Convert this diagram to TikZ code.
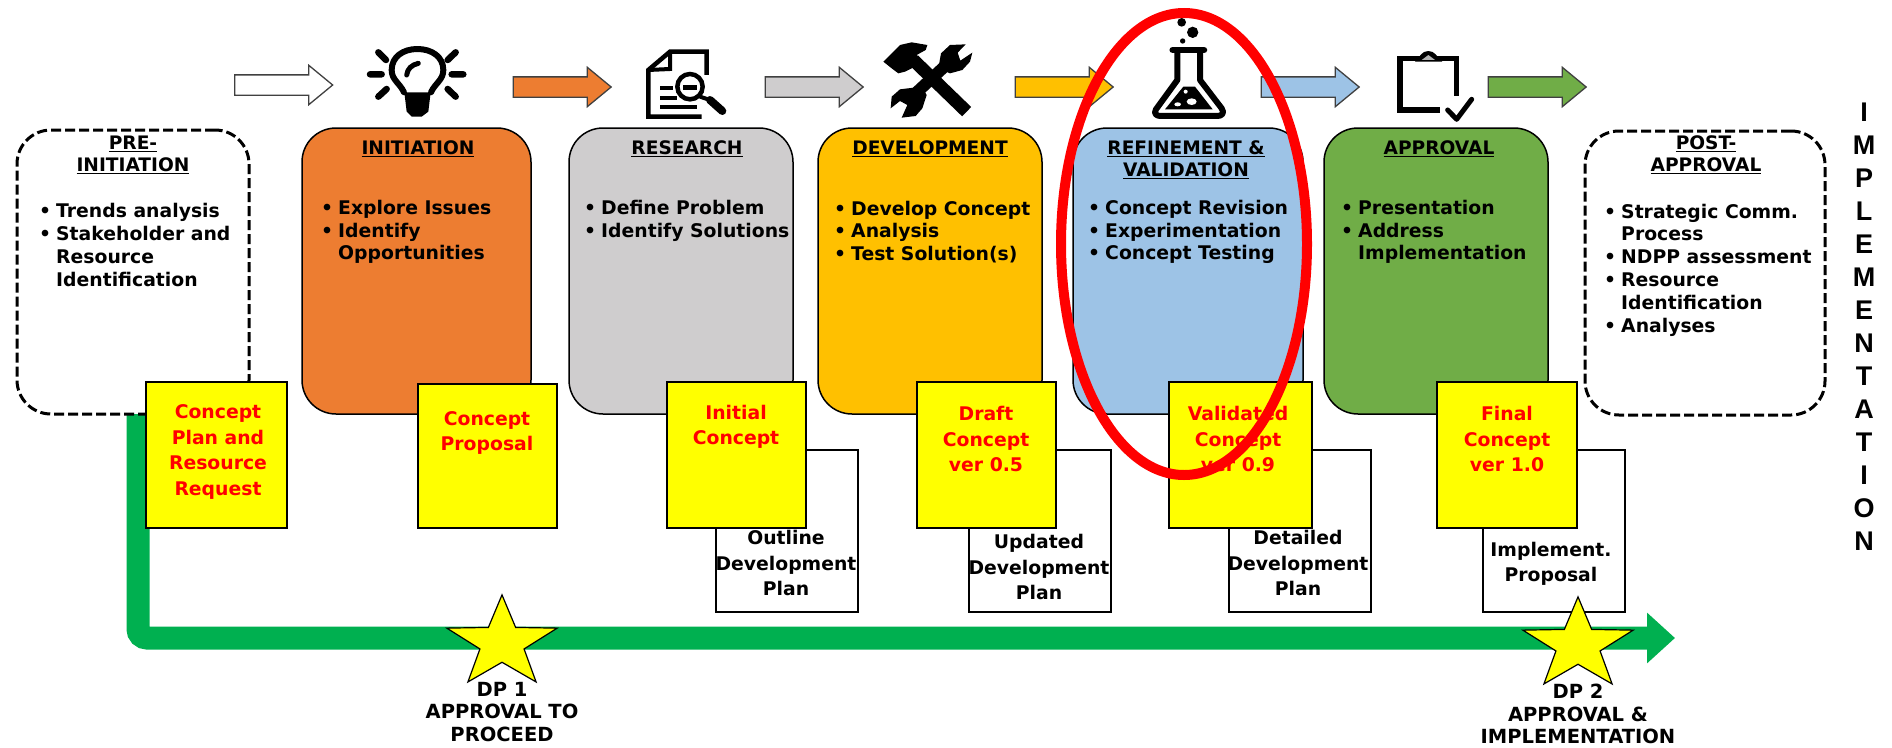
\documentclass[tikz,border=0pt]{standalone}
\usepackage{fontspec}
\setmainfont{DejaVu Sans}
\newfontfamily\libsans{Liberation Sans}
\usetikzlibrary{shapes.arrows,shapes.geometric,arrows.meta}
\definecolor{cOrange}{HTML}{ED7D31}
\definecolor{cGrey}{HTML}{CFCDCE}
\definecolor{cGold}{HTML}{FFC000}
\definecolor{cBlue}{HTML}{9DC3E6}
\definecolor{cGreen}{HTML}{70AD47}
\definecolor{cTrack}{HTML}{00B050}
\definecolor{cYellow}{HTML}{FFFF00}
\definecolor{cRed}{HTML}{FF0000}
\newcommand\bl[1]{\makebox[17pt][l]{•}#1}
\newcommand\ct[1]{\hspace*{17pt}#1}
\newcommand\arrowbody{\rule{0pt}{19pt}}
\tikzset{
  card/.style={draw=black,line width=1.5pt,rounded corners=34pt,inner sep=0pt,outer sep=0pt,anchor=north west,minimum height=286pt},
  dashcard/.style={card,line width=3pt,dash pattern=on 10pt off 4pt,minimum height=284pt},
  flowarrow/.style={single arrow,draw=black!75,line width=1.3pt,inner sep=0pt,outer sep=0pt,minimum height=98pt,
     single arrow head extend=9.5pt,single arrow tip angle=79,single arrow head indent=0pt},
  headtxt/.style={font=\fontsize{18.6}{22}\selectfont\bfseries,align=center,inner sep=0pt},
  bodytxt/.style={font=\fontsize{18.8}{22.8}\selectfont\bfseries,align=left,anchor=west,inner sep=0pt},
  yellowbox/.style={draw=black,line width=1.5pt,fill=cYellow,inner sep=0pt,outer sep=0pt,anchor=north west},
  yellowtxt/.style={font=\fontsize{18.8}{25.5}\selectfont\bfseries,text=cRed,align=center,inner sep=0pt},
  planbox/.style={draw=black,line width=1.8pt,fill=white,inner sep=0pt,outer sep=0pt,anchor=north west,minimum width=142pt,minimum height=162pt},
  plantxt/.style={font=\fontsize{18.8}{25.5}\selectfont\bfseries,align=center,inner sep=0pt},
  dpstar/.style={star,star points=5,star point ratio=2.5,draw=black,line width=1.2pt,fill=cYellow,minimum size=116pt,inner sep=0pt,yscale=.83,transform shape},
  dptxt/.style={font=\fontsize{19.5}{22.5}\selectfont\bfseries,align=center,inner sep=0pt},
  iconline/.style={line width=6pt,line cap=round,line join=round,black}
}
\begin{document}
\begin{tikzpicture}[x=1pt,y=-1pt]
\useasboundingbox (0,0) rectangle (1892,747);
\fill[white] (0,0) rectangle (1892,747);
% top arrows
\node[flowarrow,fill=white] (arrA) at (277.5,85) {\arrowbody};
\node[flowarrow,fill=cOrange] (arrB) at (556,87) {\arrowbody};
\node[flowarrow,fill=cGrey] (arrC) at (808,87) {\arrowbody};
\node[flowarrow,fill=cGold] (arrD) at (1058,87) {\arrowbody};
\node[flowarrow,fill=cBlue] (arrE) at (1304,87) {\arrowbody};
\node[flowarrow,fill=cGreen] (arrF) at (1531,87) {\arrowbody};
% bulb
\begin{scope}[shift={(355,5)},x=.3333pt,y=-.3333pt]
 \draw[iconline,line width=6pt] (147,262) .. controls (135,235) and (110,225) .. (110,195) .. controls (110,155) and (145,132) .. (187,132)
   .. controls (230,132) and (265,155) .. (265,195) .. controls (265,225) and (240,235) .. (228,262);
 \fill[black] (148,262) -- (227,262) -- (220,320) -- (200,335) -- (170,335) -- (155,320) -- cycle;
 \draw[iconline,line width=5pt] (155,210) .. controls (158,190) and (170,180) .. (190,175);
 \draw[iconline,line width=6.5pt] (45,208) -- (80,208) (290,208) -- (325,208) (70,142) -- (93,165) (302,142) -- (278,165) (70,275) -- (95,252) (302,275) -- (278,252);
\end{scope}
% document
\begin{scope}[shift={(635,25)},x=.3333pt,y=-.3333pt]
 \draw[iconline,line width=4.5pt,line cap=butt,line join=miter] (215,150) -- (215,80) -- (105,80) -- (40,135) -- (40,275) -- (200,275);
 \draw[iconline,line width=4pt,line cap=butt,line join=miter] (105,80) -- (105,132) -- (40,135);
 \draw[iconline,line width=4pt,line cap=butt] (75,190) -- (115,190) (75,218) -- (125,218) (75,245) -- (187,245) (147,187) -- (187,187);
 \fill[white] (165,185) circle (38);
 \draw[black,line width=4.5pt] (165,185) circle (38);
 \draw[iconline,line width=4.5pt,line cap=butt] (145,187) -- (187,187);
 \draw[black,line width=4pt] (195,215) -- (225,225);
 \draw[iconline,line width=8pt] (225,225) -- (262,258);
\end{scope}
% tools
\begin{scope}[shift={(875,30)},x=.3333pt,y=-.3333pt]
 \draw[black,line width=13pt] (115,90) -- (275,245);
 \fill[black] (25,95) -- (75,45) -- (110,37) -- (157,45) -- (152,60) -- (125,75) -- (140,100) -- (90,125) -- (70,130) -- (50,115) -- cycle;
 \draw[black,line width=12pt] (95,215) -- (235,85);
 \fill[black] (190,115) -- (198,70) -- (225,45) -- (272,43) -- (248,68) -- (256,92) -- (292,68) -- (285,95) -- (262,120) -- (225,130) -- cycle;
 \fill[black] (140,170) -- (75,178) -- (50,200) -- (47,235) -- (75,213) -- (97,225) -- (80,263) -- (122,258) -- (142,235) -- (155,195) -- cycle;
\end{scope}
% flask
\begin{scope}[shift={(1140,10)},x=.3333pt,y=-.3333pt]
 \fill[black] (125,37) circle (13) (158,67) circle (17) (128,93) circle (8);
 \draw[iconline,line width=6.5pt] (98,120) -- (192,120);
 \draw[iconline,line width=6pt] (112,125) -- (112,210) -- (48,298) .. controls (40,312) and (50,318) .. (62,318) -- (232,318) .. controls (245,318) and (255,310) .. (245,295) -- (180,210) -- (180,125);
 \fill[black] (130,230) -- (165,230) -- (218,298) -- (75,298) -- cycle;
 \fill[white] (137,245) circle (6) (113,283) ellipse (10 and 6) (155,275) ellipse (15 and 10);
\end{scope}
% clipboard
\begin{scope}[shift={(1385,40)},x=.3333pt,y=-.3333pt]
 \draw[iconline,line width=5.5pt,line cap=butt,line join=miter] (215,168) -- (215,55) -- (45,55) -- (45,210) -- (165,210);
 \fill[black] (90,65) .. controls (105,50) and (110,33) .. (130,33) .. controls (150,33) and (155,50) .. (172,65) -- cycle;
 \fill[gray!60] (110,60) -- (130,45) -- (150,60) -- cycle;
 \draw[iconline,line width=5pt] (188,210) -- (215,238) -- (260,178);
\end{scope}
% green track
\coordinate (trackStart) at (138,414);
\coordinate (trackCorner) at (138,638);
\coordinate (trackEnd) at (1675,638);
\draw[cTrack,line width=23pt,rounded corners=9pt,-{Triangle[length=28pt,width=49pt]}] (trackStart) -- (trackCorner) -- (trackEnd);
% phase cards
\node[dashcard,minimum width=232pt] (pre) at (17,130) {};
\node[card,fill=cOrange,minimum width=229pt] (init) at (302,128) {};
\node[card,fill=cGrey,minimum width=224pt] (res) at (569,128) {};
\node[card,fill=cGold,minimum width=224pt] (dev) at (818,128) {};
\node[card,fill=cBlue,minimum width=230pt] (ref) at (1073,128) {};
\node[card,fill=cGreen,minimum width=224pt] (app) at (1324,128) {};
\node[dashcard,minimum width=240pt] (post) at (1585,131) {};
% headings
\node[headtxt] (hPre) at (133,155) {\underline{PRE-}\\\underline{INITIATION}};
\node[headtxt] (hInit) at (418,149) {\underline{INITIATION}};
\node[headtxt] (hRes) at (687,149) {\underline{RESEARCH}};
\node[headtxt] (hDev) at (930,149) {\underline{DEVELOPMENT}};
\node[headtxt] (hRef) at (1186,160) {\underline{REFINEMENT \&}\\\underline{VALIDATION}};
\node[headtxt] (hApp) at (1439,149) {\underline{APPROVAL}};
\node[headtxt] (hPost) at (1706,155) {\underline{POST-}\\\underline{APPROVAL}};
% bullet lists
\node[bodytxt] (bPre) at (39,245) {\bl{Trends analysis}\\\bl{Stakeholder and}\\\ct{Resource}\\\ct{Identification}};
\node[bodytxt] (bInit) at (321,232) {\bl{Explore Issues}\\\bl{Identify}\\\ct{Opportunities}};
\node[bodytxt] (bRes) at (584,221) {\bl{Define Problem}\\\bl{Identify Solutions}};
\node[bodytxt] (bDev) at (834,232) {\bl{Develop Concept}\\\bl{Analysis}\\\bl{Test Solution(s)}};
\node[bodytxt] (bRef) at (1088,232) {\bl{Concept Revision}\\\bl{Experimentation}\\\bl{Concept Testing}};
\node[bodytxt] (bApp) at (1341,232) {\bl{Presentation}\\\bl{Address}\\\ct{Implementation}};
\node[bodytxt] (bPost) at (1604,270) {\bl{Strategic Comm.}\\\ct{Process}\\\bl{NDPP assessment}\\\bl{Resource}\\\ct{Identification}\\\bl{Analyses}};
% development plan boxes
\node[planbox] (pOut) at (716,450) {};
\node[planbox] (pUpd) at (969,450) {};
\node[planbox] (pDet) at (1229,450) {};
\node[planbox] (pImp) at (1483,450) {};
\node[plantxt] (tOut) at (786,563) {Outline\\Development\\Plan};
\node[plantxt] (tUpd) at (1039,567) {Updated\\Development\\Plan};
\node[plantxt] (tDet) at (1298,563) {Detailed\\Development\\Plan};
\node[plantxt] (tImp) at (1551,564) {Implement.\\Proposal};
% concept boxes
\node[yellowbox,minimum width=141pt,minimum height=146pt] (y1) at (146,382) {};
\node[yellowbox,minimum width=139pt,minimum height=144pt] (y2) at (418,384) {};
\node[yellowbox,minimum width=139pt,minimum height=146pt] (y3) at (667,382) {};
\node[yellowbox,minimum width=139pt,minimum height=146pt] (y4) at (917,382) {};
\node[yellowbox,minimum width=143pt,minimum height=146pt] (y5) at (1169,382) {};
\node[yellowbox,minimum width=140pt,minimum height=146pt] (y6) at (1437,382) {};
\node[yellowtxt] (ty1) at (218,452) {Concept\\Plan and\\Resource\\Request};
\node[yellowtxt] (ty2) at (487,433) {Concept\\Proposal};
\node[yellowtxt] (ty3) at (736,427) {Initial\\Concept};
\node[yellowtxt] (ty4) at (986,439) {Draft\\Concept\\ver 0.5};
\node[yellowtxt] (ty5) at (1238,439) {Validated\\Concept\\ver 0.9};
\node[yellowtxt] (ty6) at (1507,439) {Final\\Concept\\ver 1.0};
% decision points
\node[dpstar] (dp1) at (502,643) {};
\node[dpstar] (dp2) at (1578,645) {};
\node[dptxt] (tdp1) at (502,712) {DP 1\\APPROVAL TO\\PROCEED};
\node[dptxt] (tdp2) at (1578,714) {DP 2\\APPROVAL \&\\IMPLEMENTATION};
% vertical word
\node[font=\libsans\fontsize{27}{33}\selectfont\bfseries,align=center,inner sep=0pt] (impl) at (1864,327) {I\\M\\P\\L\\E\\M\\E\\N\\T\\A\\T\\I\\O\\N};
% highlight ellipse
\draw[cRed,line width=10pt] (1184,244) ellipse (123 and 231);
\end{tikzpicture}
\end{document}
